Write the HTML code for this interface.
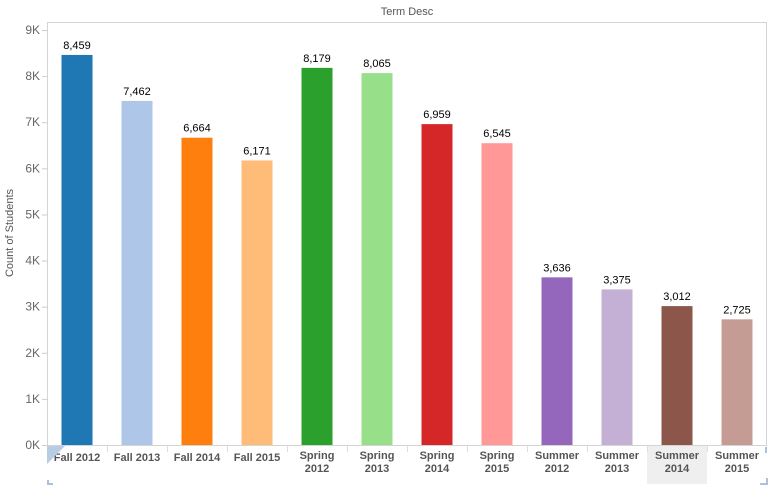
<!DOCTYPE html>
<html><head><meta charset="utf-8"><style>
body{margin:0;background:#fff;font-family:"Liberation Sans",Arial,sans-serif}
svg text{font-family:"Liberation Sans",Arial,sans-serif}
</style></head><body>
<svg id="c" width="771" height="487">
<text x="407" y="15" font-size="11" fill="#555" text-anchor="middle">Term Desc</text>
<text transform="translate(13,233) rotate(-90)" font-size="11" fill="#555" text-anchor="middle">Count of Students</text>
<rect x="647" y="446" width="60" height="38" fill="#efefef"/>
<rect x="47.5" y="22.5" width="719" height="423" fill="none" stroke="#d4d4d4"/>
<g id="g"></g>
</svg>
<script>
const categories=[["Fall 2012"],["Fall 2013"],["Fall 2014"],["Fall 2015"],["Spring","2012"],["Spring","2013"],["Spring","2014"],["Spring","2015"],["Summer","2012"],["Summer","2013"],["Summer","2014"],["Summer","2015"]];
const values=[8459,7462,6664,6171,8179,8065,6959,6545,3636,3375,3012,2725];
const colors=["#1f77b4","#aec7e8","#ff7f0e","#ffbb78","#2ca02c","#98df8a","#d62728","#ff9896","#9467bd","#c5b0d5","#8c564b","#c49c94"];
const ticks=[0,1000,2000,3000,4000,5000,6000,7000,8000,9000];
const tickLabels=["0K","1K","2K","3K","4K","5K","6K","7K","8K","9K"];
const NS="http://www.w3.org/2000/svg",g=document.getElementById("g");
const y=v=>445-v*(415/9000);
const x=i=>47+i*60+30;
function mk(t,a,txt){const e=document.createElementNS(NS,t);for(const k in a)e.setAttribute(k,a[k]);if(txt!=null)e.textContent=txt;g.appendChild(e);return e;}
ticks.forEach((t,i)=>{
 const l=mk("line",{x1:42,x2:47,y1:y(t)+.5,y2:y(t)+.5,stroke:"#ccc"});
 
 
 const e=mk("text",{x:40,y:y(t)+4,"font-size":12,fill:"#666","text-anchor":"end"},tickLabels[i]);
 
 
});
values.forEach((v,i)=>{
 const b=mk("rect",{x:x(i)-15.5,y:y(v),width:31,height:445-y(v),fill:colors[i]});
 
 
 const t=mk("text",{x:x(i),y:y(v)-6,"font-size":11,fill:"#000","text-anchor":"middle"},v.toLocaleString("en-US"));
 
 
 const c=categories[i];
 c.forEach((s,j)=>{
  const ct=mk("text",{x:x(i),y:c.length==1?461:459+j*13,"font-size":11,"font-weight":"bold",fill:"#555","text-anchor":"middle"},s);
  
  
 });
 if(i>0){const s=mk("line",{x1:47+i*60+.5,x2:47+i*60+.5,y1:446,y2:452,stroke:"#ddd"});
 
 }
});
const tri=mk("polygon",{points:"47,446 65,446 47,464",fill:"#b7cde3"});


const c1=mk("path",{d:"M48,480 V484 H53",stroke:"#a9c3dd","stroke-width":2,fill:"none"});


const c2=mk("path",{d:"M766,447 V453 M760,484 H767 V478",stroke:"#a9c3dd","stroke-width":2,fill:"none"});


</script>
</body></html>
